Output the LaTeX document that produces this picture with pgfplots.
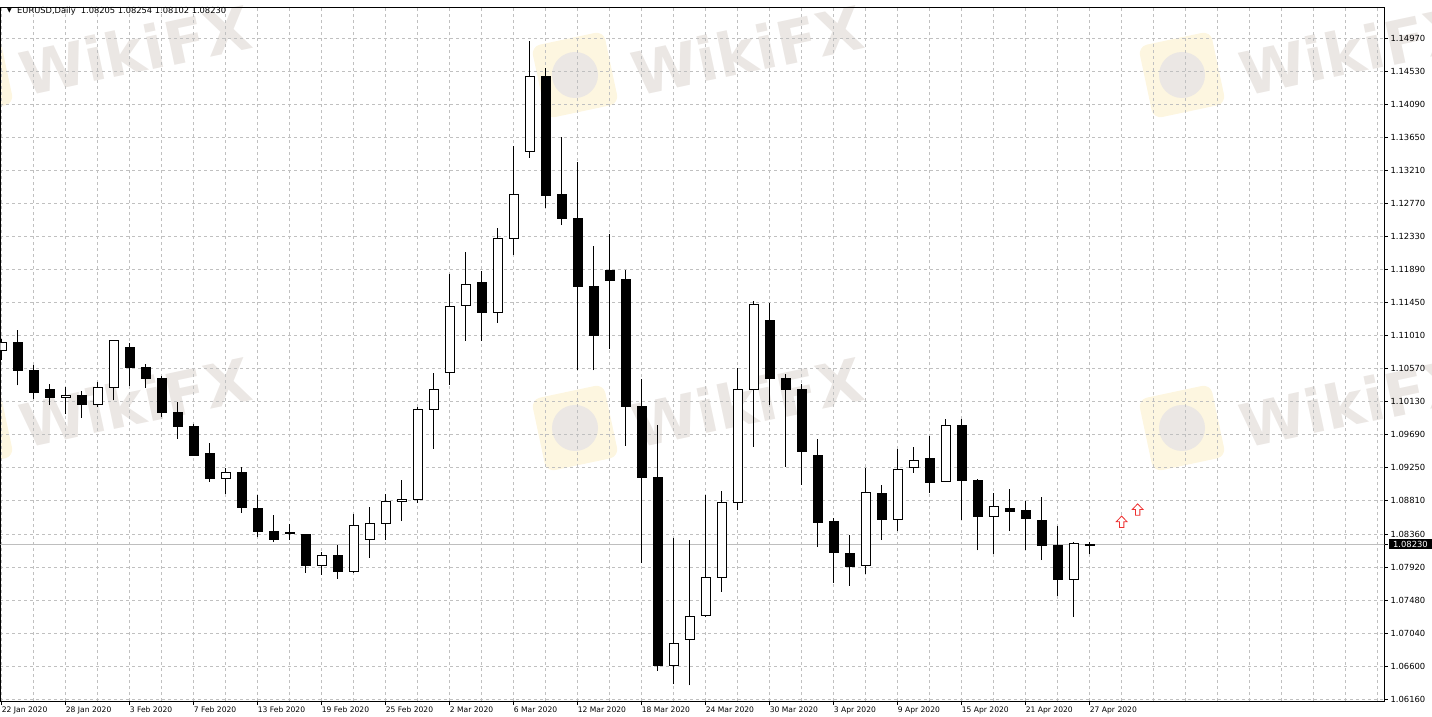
\documentclass[border=0pt]{standalone}
\usepackage{pgfplots}
\pgfplotsset{compat=1.18}
\usepackage{pgfplotstable}
\usepackage{fontspec}
\setmainfont{DejaVu Sans}

\definecolor{gridgray}{RGB}{192,192,192}
\definecolor{pricegray}{RGB}{190,190,190}
\definecolor{wm}{RGB}{235,231,228}
\definecolor{wmlogo}{RGB}{253,246,224}
\definecolor{arrowred}{RGB}{238,48,48}

% hollow up arrow, as MT4 draws it
\pgfdeclareplotmark{uparrow}{%
  \pgfpathmoveto{\pgfpoint{-2.2pt}{-5.7pt}}%
  \pgfpathlineto{\pgfpoint{2.2pt}{-5.7pt}}%
  \pgfpathlineto{\pgfpoint{2.2pt}{0pt}}%
  \pgfpathlineto{\pgfpoint{5.4pt}{0pt}}%
  \pgfpathlineto{\pgfpoint{0pt}{5.7pt}}%
  \pgfpathlineto{\pgfpoint{-5.4pt}{0pt}}%
  \pgfpathlineto{\pgfpoint{-2.2pt}{0pt}}%
  \pgfpathclose
  \pgfusepathqfillstroke}

% EURUSD daily, 22 Jan - 27 Apr 2020 (x = trading day)
\pgfplotstableread{
x  o       h       l       c
0  1.10814 1.10970 1.10690 1.10917
1  1.10917 1.11081 1.10347 1.10538
2  1.10547 1.10614 1.10170 1.10245
3  1.10294 1.10370 1.10081 1.10178
4  1.10178 1.10325 1.09961 1.10214
5  1.10214 1.10267 1.09912 1.10090
6  1.10090 1.10388 1.10058 1.10317
7  1.10317 1.10947 1.10147 1.10947
8  1.10854 1.10907 1.10334 1.10578
9  1.10587 1.10636 1.10311 1.10431
10 1.10441 1.10467 1.09925 1.09978
11 1.09988 1.10130 1.09632 1.09792
12 1.09801 1.09837 1.09405 1.09414
13 1.09441 1.09574 1.09058 1.09098
14 1.09103 1.09241 1.08894 1.09187
15 1.09187 1.09254 1.08645 1.08711
16 1.08708 1.08881 1.08325 1.08391
17 1.08401 1.08614 1.08258 1.08285
18 1.08387 1.08503 1.08281 1.08365
19 1.08361 1.08361 1.07849 1.07938
20 1.07943 1.08125 1.07823 1.08081
21 1.08081 1.08214 1.07770 1.07859
22 1.07859 1.08627 1.07845 1.08481
23 1.08290 1.08725 1.08045 1.08503
24 1.08503 1.08903 1.08281 1.08792
25 1.08797 1.09081 1.08534 1.08823
26 1.08823 1.10058 1.08783 1.10023
27 1.10023 1.10517 1.09498 1.10290
28 1.10517 1.11837 1.10357 1.11401
29 1.11410 1.12117 1.10938 1.11690
30 1.11717 1.11867 1.10938 1.11317
31 1.11317 1.12445 1.11178 1.12303
32 1.12303 1.13538 1.12090 1.12890
33 1.13458 1.14938 1.13378 1.14463
34 1.14467 1.14578 1.12711 1.12881
35 1.12890 1.13654 1.12481 1.12565
36 1.12574 1.13325 1.10547 1.11658
37 1.11667 1.12205 1.10547 1.11014
38 1.11881 1.12361 1.10837 1.11747
39 1.11761 1.11881 1.09538 1.10058
40 1.10067 1.10437 1.07981 1.09112
41 1.09121 1.09814 1.06538 1.06605
42 1.06605 1.08311 1.06361 1.06903
43 1.06957 1.08281 1.06347 1.07258
44 1.07271 1.08881 1.07258 1.07783
45 1.07783 1.08934 1.07591 1.08783
46 1.08783 1.10578 1.08681 1.10290
47 1.10290 1.11467 1.09525 1.11423
48 1.11214 1.11445 1.10081 1.10437
49 1.10437 1.10503 1.09258 1.10290
50 1.10290 1.10370 1.09023 1.09458
51 1.09410 1.09636 1.08191 1.08511
52 1.08530 1.08583 1.07717 1.08117
53 1.08107 1.08357 1.07671 1.07925
54 1.07938 1.09250 1.07831 1.08917
55 1.08903 1.09014 1.08281 1.08551
56 1.08551 1.09503 1.08401 1.09223
57 1.09250 1.09521 1.09178 1.09343
58 1.09370 1.09667 1.08911 1.09045
59 1.09063 1.09903 1.09063 1.09810
60 1.09814 1.09894 1.08551 1.09071
61 1.09081 1.09103 1.08147 1.08592
62 1.08592 1.08917 1.08103 1.08734
63 1.08707 1.08961 1.08401 1.08667
64 1.08677 1.08801 1.08147 1.08565
65 1.08543 1.08854 1.08014 1.08205
66 1.08214 1.08471 1.07538 1.07761
67 1.07761 1.08259 1.07254 1.08237
68 1.08205 1.08254 1.08102 1.08230
}\ohlc

\pgfplotsset{
  chartbox/.style={
    at={(2,21)}, anchor=south west, scale only axis,
    width=1384pt, height=694pt,
    xmin=-0.08125, xmax=86.41875,
    ymin=1.06134, ymax=1.15387,
  },
}

\begin{document}
\begin{tikzpicture}[x=1pt,y=1pt]
\useasboundingbox (0,0) rectangle (1432,717);

% WikiFX watermark
\foreach \lx in {-30,575,1182} \foreach \ly in {642,289} {
  \fill[wmlogo, rounded corners=9pt, rotate around={12:(\lx,\ly)}]
    (\lx-37,\ly-37) rectangle (\lx+37,\ly+37);
  \fill[wm] (\lx,\ly) circle (23);
}
\foreach \wx in {135,747,1355} \foreach \wy in {667,315} {
  \node[rotate=12, text=wm, font=\fontsize{60}{60}\selectfont\bfseries] at (\wx,\wy) {WikiFX};
}

\begin{axis}[
    chartbox,
    axis line style={black, line width=1pt},
    tick align=outside,
    major tick length=3.5pt,
    minor tick length=0pt,
    tick style={black, line width=0.8pt},
    xtick pos=left,
    ytick pos=right,
    yticklabel pos=right,
    xtick={0,4,...,68},
    xticklabels={22 Jan 2020, 28 Jan 2020, 3 Feb 2020, 7 Feb 2020, 13 Feb 2020,
        19 Feb 2020, 25 Feb 2020, 2 Mar 2020, 6 Mar 2020, 12 Mar 2020, 18 Mar 2020,
        24 Mar 2020, 30 Mar 2020, 3 Apr 2020, 9 Apr 2020, 15 Apr 2020, 21 Apr 2020,
        27 Apr 2020},
    minor xtick={2,6,10,14,18,22,26,30,34,38,42,46,50,54,58,62,66,70,72,74,76,78,80,82,84,86},
    ytick={1.06160,1.06600,1.07040,1.07480,1.07920,1.08360,1.08810,1.09250,1.09690,
        1.10130,1.10570,1.11010,1.11450,1.11890,1.12330,1.12770,1.13210,1.13650,
        1.14090,1.14530,1.14970},
    yticklabels={1.06160,1.06600,1.07040,1.07480,1.07920,1.08360,1.08810,1.09250,1.09690,
        1.10130,1.10570,1.11010,1.11450,1.11890,1.12330,1.12770,1.13210,1.13650,
        1.14090,1.14530,1.14970},
    xmajorgrids, xminorgrids, ymajorgrids,
    major grid style={gridgray, dash pattern=on 3pt off 3pt, line width=0.8pt},
    minor grid style={gridgray, dash pattern=on 3pt off 3pt, line width=0.8pt},
    xticklabel style={font=\fontsize{7.6}{9}\selectfont, anchor=north west, inner sep=0pt, yshift=-2pt},
    yticklabel style={font=\fontsize{8.4}{10}\selectfont, anchor=west, inner sep=0pt, xshift=2.5pt},
    extra y ticks={1.0823},
    extra y tick labels={1.08230},
    extra y tick style={grid=none,
        yticklabel style={fill=black, text=white, inner xsep=3.7pt, inner ysep=1.6pt, xshift=-1.2pt}},
]
% current bid line
\addplot[pricegray, line width=0.8pt, forget plot] coordinates {(-1,1.08230) (90,1.08230)};
% wicks
\addplot[draw=none, mark=none, forget plot,
    error bars/.cd, y dir=plus, y explicit, error mark=none,
    error bar style={draw=black, line width=1pt, solid}]
    table[x=x, y=l, y error expr=\thisrow{h}-\thisrow{l}] {\ohlc};
% signal arrows
\addplot[only marks, mark=uparrow, mark options={draw=arrowred, fill=white, line width=0.8pt}]
    coordinates {(70,1.08527) (71,1.08690)};
\end{axis}

% candle bodies: invisible base up to the body, then up or down body
\begin{axis}[chartbox, hide axis, ybar stacked, bar width=9pt]
\addplot[draw=none, fill=none] table[x=x, y expr={min(\thisrow{o},\thisrow{c})}] {\ohlc};
\addplot[draw=black, fill=white, line width=1pt] table[x=x, y expr={max(\thisrow{c}-\thisrow{o},0)}] {\ohlc};
\addplot[draw=black, fill=black, line width=1pt] table[x=x, y expr={max(\thisrow{o}-\thisrow{c},0)}] {\ohlc};
\end{axis}

\node[inner sep=0pt, font=\fontsize{6}{6}\selectfont] at (9.5,706) {▼};
\node[anchor=west, inner sep=0pt, font=\fontsize{8.3}{10}\selectfont] at (17,706)
    {EURUSD,Daily\ \ 1.08205 1.08254 1.08102 1.08230};
\end{tikzpicture}
\end{document}
